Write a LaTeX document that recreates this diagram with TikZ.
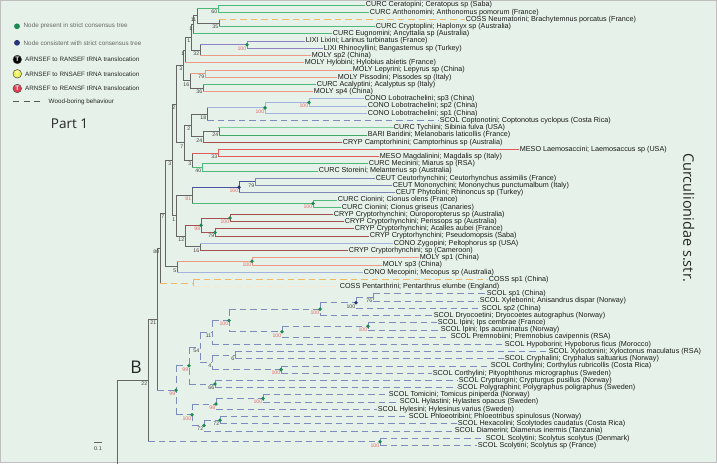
\documentclass[tikz,border=0pt]{standalone}
\usepackage{fontspec}
\setmainfont{Liberation Sans}
\newfontfamily\osans{Open Sans}
\definecolor{bgc}{HTML}{E6F2E9}
\definecolor{gbr}{HTML}{666666}
\definecolor{ccurc}{HTML}{4DBA7A}
\definecolor{ccurct}{HTML}{7CCF9C}
\definecolor{ccoss}{HTML}{F2B866}
\definecolor{clixi}{HTML}{8F7FC4}
\definecolor{cmoly}{HTML}{EC9A85}
\definecolor{ccono}{HTML}{A3B3E0}
\definecolor{cscol}{HTML}{7D8CBD}
\definecolor{ccryp}{HTML}{A5504F}
\definecolor{cmeso}{HTML}{E25A5A}
\definecolor{cceut}{HTML}{7D86B5}
\definecolor{cceutd}{HTML}{4B559F}
\definecolor{cbari}{HTML}{3FAA66}
\definecolor{supred}{HTML}{E8686A}
\definecolor{dotg}{HTML}{1A8A50}
\definecolor{dotn}{HTML}{2A3278}
\definecolor{tyel}{HTML}{EEEE55}
\definecolor{tred}{HTML}{E04050}
\pgfmathdeclarefunction{ly}{1}{\pgfmathparse{5+7.22*#1}}
\newcommand\lf[4]{\node[lab] (#1) at (#3,{ly(#2)}) {#4};}
\newcommand\nd[4]{\pgfmathsetmacro\mytmpy{((#3)+(#4))/2}\expandafter\xdef\csname ny@#1\endcsname{\mytmpy}\coordinate (#1) at (#2,\mytmpy);}
\newcommand\yy[1]{\csname ny@#1\endcsname}
\newcommand\vt[4]{\draw[#1] (#2 |- #3) -- (#2 |- #4);}
\newcommand\hz[3]{\draw[#1] (#2 |- #3) -- (#3);}
\newcommand\sv[3]{\node[#2] (s#1) at ([xshift=-0.3pt,yshift=-1.2pt]#1) {#3};}
\newcommand\dg[1]{\fill[dotg] (#1) circle (1.9pt);}
\newcommand\dn[1]{\fill[dotn] (#1) circle (1.9pt);}
\begin{document}
\begin{tikzpicture}[x=1pt,y=-1pt,
 lab/.style={anchor=west,inner xsep=0.7pt,inner ysep=0.5pt,font=\fontsize{7.2}{8}\selectfont,text=black!90},
 supb/.style={anchor=north east,inner sep=0.3pt,font=\fontsize{5.2}{6}\selectfont,text=black!75},
 supr/.style={supb,text=supred},
 gr/.style={line width=.8pt,draw=gbr,line cap=rect},
 curc/.style={line width=.8pt,draw=ccurc,line cap=rect},
 curct/.style={line width=1.1pt,draw=ccurct,line cap=rect},
 bari/.style={line width=.8pt,draw=cbari,line cap=rect},
 lixi/.style={line width=.8pt,draw=clixi,line cap=rect},
 moly/.style={line width=.8pt,draw=cmoly,line cap=rect},
 cono/.style={line width=.8pt,draw=ccono,line cap=rect},
 cryp/.style={line width=.8pt,draw=ccryp,line cap=rect},
 meso/.style={line width=.8pt,draw=cmeso,line cap=rect},
 ceut/.style={line width=.8pt,draw=cceut,line cap=rect},
 ceutd/.style={line width=.8pt,draw=cceutd,line cap=rect},
 coss/.style={line width=.8pt,draw=ccoss,dash pattern=on 6.5pt off 4pt},
 cossf/.style={line width=.8pt,draw=ccoss!35,dash pattern=on 6.5pt off 4pt},
 scol/.style={line width=.8pt,draw=cscol,dash pattern=on 6.5pt off 4pt},
 legt/.style={anchor=west,inner sep=0pt,font=\fontsize{6.3}{7}\selectfont,text=black!60},
 legt2/.style={anchor=west,inner sep=0pt,font=\fontsize{6.3}{7}\selectfont,text=black!85},
 tcirc/.style={circle,draw=black!70,line width=.5pt,inner sep=0pt,minimum size=8.6pt,text=white,font=\bfseries\fontsize{6.5}{7}\selectfont}
]
\useasboundingbox (0,0) rectangle (717,463);
\fill[bgc] (0,0) rectangle (717,463);
\draw[black!25,line width=.8pt] (0.4,0.4) rectangle (716.6,462.6);

% legend
\fill[dotg] (17,26.3) circle (2.9pt);
\node[legt] (lg1) at (23.5,26.3) {Node present in strict consensus tree};
\fill[dotn] (17,42.8) circle (2.9pt);
\node[legt] (lg2) at (23.5,42.8) {Node consistent with strict consensus tree};
\node[tcirc,fill=black] (t1) at (17.3,59.5) {T};
\node[legt2] (lg3) at (25,59.5) {ARNSEF to RANSEF tRNA translocation};
\node[tcirc,fill=tyel] (t2) at (17.3,73.8) {T};
\node[legt2] (lg4) at (25,73.8) {ARNSEF to RNSAEF tRNA translocation};
\node[tcirc,fill=tred] (t3) at (17.3,88.5) {T};
\node[legt2] (lg5) at (25,88.5) {ARNSEF to REANSF tRNA translocation};
\coordinate (wd1) at (13,101.8); \coordinate (wd2) at (41,101.8);
\draw[black!65,line width=1.3pt,dash pattern=on 6pt off 4.5pt] (wd1) -- (wd2);
\node[legt2] (lg6) at (48.5,101.8) {Wood-boring behaviour};
\node[anchor=base,inner sep=0pt,font=\osans\fontsize{13.5}{16}\selectfont,text=black!85] (p1) at (69.5,128) {Part 1};
\node[anchor=base,inner sep=0pt,font=\osans\fontsize{17.5}{20}\selectfont,text=black!85] (bb) at (136,373.3) {B};
\node[rotate=-90,anchor=base west,inner sep=0pt,font=\osans\fontsize{14.5}{16}\selectfont,text=black!85] (cur) at (683.3,153) {Curculionidae s.str.};
\coordinate (sb1) at (94,442.7); \coordinate (sb2) at (102,442.7);
\draw[gbr,line width=.6pt] (sb1) -- (sb2);
\node[inner sep=0pt,font=\fontsize{5.5}{6}\selectfont,text=black!75] (sbl) at (98,449) {0.1};

% leaves
\lf{L0}{0}{365}{CURC Ceratopini; Ceratopus sp (Saba)}
\lf{L1}{1}{369}{CURC Anthonomini; Anthonomus pomorum (France)}
\lf{L2}{2}{465}{COSS Neumatorini; Brachytemnus porcatus (France)}
\lf{L3}{3}{375}{CURC Cryptoplini; Haplonyx sp (Australia)}
\lf{L4}{4}{332}{CURC Eugnomini; Ancyttalia sp (Australia)}
\lf{L5}{5}{305}{LIXI Lixini; Larinus turbinatus (France)}
\lf{L6}{6}{323}{LIXI Rhinocyllini; Bangasternus sp (Turkey)}
\lf{L7}{7}{311}{MOLY sp2 (China)}
\lf{L8}{8}{304}{MOLY Hylobini; Hylobius abietis (France)}
\lf{L9}{9}{352}{MOLY Lepyrini; Lepyrus sp (China)}
\lf{L10}{10}{337}{MOLY Pissodini; Pissodes sp (Italy)}
\lf{L11}{11}{316}{CURC Acalyptini; Acalyptus sp (Italy)}
\lf{L12}{12}{313}{MOLY sp4 (China)}
\lf{L13}{13}{364}{CONO Lobotrachelini; sp3 (China)}
\lf{L14}{14}{367}{CONO Lobotrachelini; sp2 (China)}
\lf{L15}{15}{367}{CONO Lobotrachelini; sp1 (China)}
\lf{L16}{16}{439}{SCOL Coptonotini; Coptonotus cyclopus (Costa Rica)}
\lf{L17}{17}{393}{CURC Tychiini; Sibinia fulva (USA)}
\lf{L18}{18}{367}{BARI Baridini; Melanobaris laticollis (France)}
\lf{L19}{19}{342}{CRYP Camptorhinini; Camptorhinus sp (Australia)}
\lf{L20}{20}{519}{MESO Laemosaccini; Laemosaccus sp (USA)}
\lf{L21}{21}{379}{MESO Magdalinini; Magdalis sp (Italy)}
\lf{L22}{22}{368}{CURC Mecinini; Miarus sp (RSA)}
\lf{L23}{23}{318}{CURC Storeini; Melanterius sp (Australia)}
\lf{L24}{24}{375}{CEUT Ceutorhynchini; Ceutorhynchus assimilis (France)}
\lf{L25}{25}{392}{CEUT Mononychini; Mononychus punctumalbum (Italy)}
\lf{L26}{26}{395}{CEUT Phytobini; Rhinoncus sp (Turkey)}
\lf{L27}{27}{337}{CURC Cionini; Cionus olens (France)}
\lf{L28}{28}{341}{CURC Cionini; Cionus griseus (Canaries)}
\lf{L29}{29}{333}{CRYP Cryptorhynchini; Ouroporopterus sp (Australia)}
\lf{L30}{30}{344}{CRYP Cryptorhynchini; Perissops sp (Australia)}
\lf{L31}{31}{354}{CRYP Cryptorhynchini; Acalles aubei (France)}
\lf{L32}{32}{369}{CRYP Cryptorhynchini; Pseudomopsis (Saba)}
\lf{L33}{33}{393}{CONO Zygopini; Peltophorus sp (USA)}
\lf{L34}{34}{348}{CRYP Cryptorhynchini; sp (Cameroon)}
\lf{L35}{35}{419}{MOLY sp1 (China)}
\lf{L36}{36}{382}{MOLY sp3 (China)}
\lf{L37}{37}{363}{CONO Mecopini; Mecopus sp (Australia)}
\lf{L38}{38}{488}{COSS sp1 (China)}
\lf{L39}{39}{339}{COSS Pentarthrini; Pentarthrus elumbe (England)}
\lf{L40}{40}{486}{SCOL sp1 (China)}
\lf{L41}{41}{479}{SCOL Xyleborini; Anisandrus dispar (Norway)}
\lf{L42}{42}{481}{SCOL sp2 (China)}
\lf{L43}{43}{433}{SCOL Dryocoetini; Dryocoetes autographus (Norway)}
\lf{L44}{44}{437}{SCOL Ipini; Ips cembrae (France)}
\lf{L45}{45}{440}{SCOL Ipini; Ips acuminatus (Norway)}
\lf{L46}{46}{450}{SCOL Premnobiini; Premnobius cavipennis (RSA)}
\lf{L47}{47}{504}{SCOL Hypoborini; Hypoborus ficus (Morocco)}
\lf{L48}{48}{548}{SCOL Xyloctonini; Xyloctonus maculatus (RSA)}
\lf{L49}{49}{504}{SCOL Cryphalini; Cryphalus saltuarius (Norway)}
\lf{L50}{50}{490}{SCOL Corthylini; Corthylus rubricollis (Costa Rica)}
\lf{L51}{51}{432}{SCOL Corthylini; Pityophthorus micrographus (Sweden)}
\lf{L52}{52}{458}{SCOL Crypturgini; Crypturgus pusillus (Norway)}
\lf{L53}{53}{457}{SCOL Polygraphini; Polygraphus poligraphus (Sweden)}
\lf{L54}{54}{388}{SCOL Tomicini; Tomicus piniperda (Norway)}
\lf{L55}{55}{399}{SCOL Hylastini; Hylastes opacus (Sweden)}
\lf{L56}{56}{377}{SCOL Hylesini; Hylesinus varius (Sweden)}
\lf{L57}{57}{408}{SCOL Phloeotribini; Phloeotribus spinulosus (Norway)}
\lf{L58}{58}{457}{SCOL Hexacolini; Scolytodes caudatus (Costa Rica)}
\lf{L59}{59}{454}{SCOL Diamerini; Diamerus inermis (Tanzania)}
\lf{L60}{60}{485}{SCOL Scolytini; Scolytus scolytus (Denmark)}
\lf{L61}{61}{477}{SCOL Scolytini; Scolytus sp (France)}

% internal nodes
\nd{A}{218}{ly(0)}{ly(1)}
\nd{B}{219}{ly(2)}{ly(3)}
\nd{C}{197}{\yy{A}}{\yy{B}}
\nd{D}{193}{\yy{C}}{ly(4)}
\nd{E}{247}{ly(5)}{ly(6)}
\nd{F}{200}{\yy{E}}{ly(7)}
\nd{G}{191}{\yy{D}}{\yy{F}}
\nd{H}{185}{\yy{G}}{ly(8)}
\nd{I}{205}{ly(9)}{ly(10)}
\nd{J}{203}{ly(11)}{ly(12)}
\nd{K}{190}{\yy{I}}{\yy{J}}
\nd{L}{183}{\yy{H}}{\yy{K}}
\nd{M}{309}{ly(13)}{ly(14)}
\nd{N}{265}{\yy{M}}{ly(15)}
\nd{O}{207}{\yy{N}}{ly(16)}
\nd{P}{219}{ly(17)}{ly(18)}
\nd{Q}{203}{\yy{P}}{ly(19)}
\nd{R}{191}{\yy{O}}{\yy{Q}}
\nd{U}{218}{ly(20)}{ly(21)}
\nd{V}{202}{ly(22)}{ly(23)}
\nd{W}{192}{\yy{U}}{\yy{V}}
\nd{Y}{184}{\yy{R}}{\yy{W}}
\nd{S}{176}{\yy{L}}{\yy{Y}}
\nd{C79}{255}{ly(24)}{ly(25)}
\nd{C100}{239}{\yy{C79}}{ly(26)}
\nd{CI}{313}{ly(27)}{ly(28)}
\nd{Z}{192}{\yy{C100}}{\yy{CI}}
\nd{OP}{230}{ly(29)}{ly(30)}
\nd{AP}{215}{ly(31)}{ly(32)}
\nd{N98}{201}{\yy{OP}}{\yy{AP}}
\nd{N16}{200}{ly(33)}{ly(34)}
\nd{N12}{185}{\yy{N98}}{\yy{N16}}
\nd{N1}{176}{\yy{Z}}{\yy{N12}}
\nd{X}{172}{\yy{S}}{\yy{N1}}
\nd{MO}{252}{ly(35)}{ly(36)}
\nd{N5}{177}{\yy{MO}}{ly(37)}
\nd{N7}{165}{\yy{X}}{\yy{N5}}
\nd{CS}{193}{ly(38)}{ly(39)}
\nd{N80}{160}{\yy{N7}}{\yy{CS}}
\nd{S76}{373}{ly(40)}{ly(41)}
\nd{SNV}{356}{\yy{S76}}{ly(42)}
\nd{SD}{320}{\yy{SNV}}{ly(43)}
\nd{SIP}{368}{ly(44)}{ly(45)}
\nd{SIPr}{282}{\yy{SIP}}{ly(46)}
\nd{SA}{229}{\yy{SD}}{\yy{SIPr}}
\nd{S11}{212}{\yy{SA}}{ly(47)}
\nd{S6}{235}{ly(48)}{ly(49)}
\nd{SCo}{281}{ly(50)}{ly(51)}
\nd{S4}{212}{\yy{S6}}{\yy{SCo}}
\nd{S54}{200}{\yy{S11}}{\yy{S4}}
\nd{S66}{215}{ly(52)}{ly(53)}
\nd{SU}{189}{\yy{S54}}{\yy{S66}}
\nd{STH}{263}{ly(54)}{ly(55)}
\nd{S98}{216}{\yy{STH}}{ly(56)}
\nd{S72a}{220}{ly(57)}{ly(58)}
\nd{S72b}{204}{\yy{S72a}}{ly(59)}
\nd{SL}{192}{\yy{S98}}{\yy{S72b}}
\nd{SB}{176}{\yy{SU}}{\yy{SL}}
\nd{N21}{157}{\yy{N80}}{\yy{SB}}
\nd{SS}{380}{ly(60)}{ly(61)}
\nd{N22}{148}{\yy{N21}}{\yy{SS}}
\coordinate (RT) at (117,\yy{N22});
\coordinate (RB) at (117,463);

% verticals
\vt{curc}{A}{L0.west}{L1.west}
\vt{gr}{B}{L2.west}{L3.west}
\vt{gr}{C}{A}{B}
\vt{gr}{D}{C}{L4.west}
\vt{lixi}{E}{L5.west}{L6.west}
\vt{gr}{F}{E}{L7.west}
\vt{gr}{G}{D}{F}
\vt{gr}{H}{G}{L8.west}
\vt{moly}{I}{L9.west}{L10.west}
\vt{gr}{J}{L11.west}{L12.west}
\vt{gr}{K}{I}{J}
\vt{gr}{L}{H}{K}
\vt{cono}{M}{L13.west}{L14.west}
\vt{cono}{N}{M}{L15.west}
\vt{gr}{O}{N}{L16.west}
\vt{gr}{P}{L17.west}{L18.west}
\vt{gr}{Q}{P}{L19.west}
\vt{gr}{R}{O}{Q}
\vt{meso}{U}{L20.west}{L21.west}
\vt{curc}{V}{L22.west}{L23.west}
\vt{gr}{W}{U}{V}
\vt{gr}{Y}{R}{W}
\vt{gr}{S}{L}{Y}
\vt{ceut}{C79}{L24.west}{L25.west}
\vt{ceutd}{C100}{C79}{L26.west}
\vt{curc}{CI}{L27.west}{L28.west}
\vt{gr}{Z}{C100}{CI}
\vt{cryp}{OP}{L29.west}{L30.west}
\vt{cryp}{AP}{L31.west}{L32.west}
\vt{cryp}{N98}{OP}{AP}
\vt{gr}{N16}{L33.west}{L34.west}
\vt{gr}{N12}{N98}{N16}
\vt{gr}{N1}{Z}{N12}
\vt{gr}{X}{S}{N1}
\vt{moly}{MO}{L35.west}{L36.west}
\vt{gr}{N5}{MO}{L37.west}
\vt{gr}{N7}{X}{N5}
\vt{coss}{CS}{L38.west}{L39.west}
\vt{gr}{N80}{N7}{CS}
\vt{scol}{S76}{L40.west}{L41.west}
\vt{scol}{SNV}{S76}{L42.west}
\vt{scol}{SD}{SNV}{L43.west}
\vt{scol}{SIP}{L44.west}{L45.west}
\vt{scol}{SIPr}{SIP}{L46.west}
\vt{scol}{SA}{SD}{SIPr}
\vt{scol}{S11}{SA}{L47.west}
\vt{scol}{S6}{L48.west}{L49.west}
\vt{scol}{SCo}{L50.west}{L51.west}
\vt{scol}{S4}{S6}{SCo}
\vt{scol}{S54}{S11}{S4}
\vt{scol}{S66}{L52.west}{L53.west}
\vt{scol}{SU}{S54}{S66}
\vt{scol}{STH}{L54.west}{L55.west}
\vt{scol}{S98}{STH}{L56.west}
\vt{scol}{S72a}{L57.west}{L58.west}
\vt{scol}{S72b}{S72a}{L59.west}
\vt{scol}{SL}{S98}{S72b}
\vt{scol}{SB}{SU}{SL}
\vt{gr}{N21}{N80}{SB}
\vt{scol}{SS}{L60.west}{L61.west}
\vt{gr}{N22}{N21}{SS}

% horizontals
\hz{curc}{A}{L0.west} \hz{curc}{A}{L1.west}
\hz{coss}{B}{L2.west} \hz{curc}{B}{L3.west}
\hz{curc}{C}{A} \hz{gr}{C}{B}
\hz{gr}{D}{C} \hz{curc}{D}{L4.west}
\hz{lixi}{E}{L5.west} \hz{lixi}{E}{L6.west}
\hz{lixi}{F}{E} \hz{moly}{F}{L7.west}
\hz{gr}{G}{D} \hz{gr}{G}{F}
\hz{gr}{H}{G} \hz{moly}{H}{L8.west}
\hz{moly}{I}{L9.west} \hz{moly}{I}{L10.west}
\hz{curc}{J}{L11.west} \hz{moly}{J}{L12.west}
\hz{moly}{K}{I} \hz{gr}{K}{J}
\hz{gr}{L}{H} \hz{gr}{L}{K}
\hz{cono}{M}{L13.west} \hz{cono}{M}{L14.west}
\hz{cono}{N}{M} \hz{cono}{N}{L15.west}
\hz{cono}{O}{N} \hz{scol}{O}{L16.west}
\hz{curct}{P}{L17.west} \hz{bari}{P}{L18.west}
\hz{gr}{Q}{P} \hz{cryp}{Q}{L19.west}
\hz{gr}{R}{O} \hz{gr}{R}{Q}
\hz{meso}{U}{L20.west} \hz{meso}{U}{L21.west}
\hz{curc}{V}{L22.west} \hz{curc}{V}{L23.west}
\hz{meso}{W}{U} \hz{curc}{W}{V}
\hz{gr}{Y}{R} \hz{gr}{Y}{W}
\hz{gr}{S}{L} \hz{gr}{S}{Y}
\hz{ceut}{C79}{L24.west} \hz{ceut}{C79}{L25.west}
\hz{ceutd}{C100}{C79} \hz{ceut}{C100}{L26.west}
\hz{curc}{CI}{L27.west} \hz{curc}{CI}{L28.west}
\hz{ceutd}{Z}{C100} \hz{curc}{Z}{CI}
\hz{cryp}{OP}{L29.west} \hz{cryp}{OP}{L30.west}
\hz{cryp}{AP}{L31.west} \hz{cryp}{AP}{L32.west}
\hz{cryp}{N98}{OP} \hz{cryp}{N98}{AP}
\hz{cono}{N16}{L33.west} \hz{cryp}{N16}{L34.west}
\hz{cryp}{N12}{N98} \hz{gr}{N12}{N16}
\hz{gr}{N1}{Z} \hz{gr}{N1}{N12}
\hz{gr}{X}{S} \hz{gr}{X}{N1}
\hz{moly}{MO}{L35.west} \hz{moly}{MO}{L36.west}
\hz{moly}{N5}{MO} \hz{cono}{N5}{L37.west}
\hz{gr}{N7}{X} \hz{gr}{N7}{N5}
\hz{coss}{CS}{L38.west} \hz{cossf}{CS}{L39.west}
\hz{gr}{N80}{N7} \hz{coss}{N80}{CS}
\hz{scol}{S76}{L40.west} \hz{scol}{S76}{L41.west}
\hz{scol}{SNV}{S76} \hz{scol}{SNV}{L42.west}
\hz{scol}{SD}{SNV} \hz{scol}{SD}{L43.west}
\hz{scol}{SIP}{L44.west} \hz{scol}{SIP}{L45.west}
\hz{scol}{SIPr}{SIP} \hz{scol}{SIPr}{L46.west}
\hz{scol}{SA}{SD} \hz{scol}{SA}{SIPr}
\hz{scol}{S11}{SA} \hz{scol}{S11}{L47.west}
\hz{scol}{S6}{L48.west} \hz{scol}{S6}{L49.west}
\hz{scol}{SCo}{L50.west} \hz{scol}{SCo}{L51.west}
\hz{scol}{S4}{S6} \hz{scol}{S4}{SCo}
\hz{scol}{S54}{S11} \hz{scol}{S54}{S4}
\hz{scol}{S66}{L52.west} \hz{scol}{S66}{L53.west}
\hz{scol}{SU}{S54} \hz{scol}{SU}{S66}
\hz{scol}{STH}{L54.west} \hz{scol}{STH}{L55.west}
\hz{scol}{S98}{STH} \hz{scol}{S98}{L56.west}
\hz{scol}{S72a}{L57.west} \hz{scol}{S72a}{L58.west}
\hz{scol}{S72b}{S72a} \hz{scol}{S72b}{L59.west}
\hz{scol}{SL}{S98} \hz{scol}{SL}{S72b}
\hz{scol}{SB}{SU} \hz{scol}{SB}{SL}
\hz{gr}{N21}{N80} \hz{scol}{N21}{SB}
\hz{scol}{SS}{L60.west} \hz{scol}{SS}{L61.west}
\hz{gr}{N22}{N21} \hz{scol}{N22}{SS}
\draw[gr,line width=1pt] (RB) -- (RT) -- (N22);

% dots
\dg{E}\dg{M}\dg{N}\dg{CI}\dg{OP}\dg{AP}\dg{N98}\dg{MO}
\dg{SD}\dg{SIP}\dg{SIPr}\dg{SA}\dg{SCo}\dg{S66}\dg{SU}\dg{STH}\dg{S98}\dg{S72a}\dg{S72b}\dg{SL}\dg{SB}\dg{SS}
\dn{C100}\dn{SNV}

% support values
\sv{A}{supb}{60} \sv{B}{supb}{35} \sv{C}{supb}{11} \sv{D}{supb}{1}
\sv{E}{supr}{100} \sv{F}{supb}{32} \sv{G}{supb}{1} \sv{H}{supb}{1}
\sv{I}{supb}{79} \sv{J}{supb}{36} \sv{K}{supb}{16} \sv{L}{supb}{3}
\sv{M}{supr}{100} \sv{N}{supr}{100} \sv{O}{supb}{18} \sv{P}{supb}{24}
\sv{Q}{supb}{24} \sv{R}{supb}{2} \sv{U}{supb}{33} \sv{V}{supb}{40}
\sv{W}{supb}{3} \sv{Y}{supb}{7} \sv{S}{supb}{2} \sv{C79}{supb}{79}
\sv{C100}{supr}{100} \sv{CI}{supr}{100} \sv{Z}{supr}{81} \sv{OP}{supr}{100}
\sv{AP}{supb}{79} \sv{N98}{supr}{98} \sv{N16}{supb}{16} \sv{N12}{supb}{12}
\sv{N1}{supb}{1} \sv{X}{supb}{3} \sv{MO}{supr}{100} \sv{N5}{supb}{5}
\sv{N7}{supb}{7} \sv{N80}{supb}{80} \sv{S76}{supb}{76} \sv{SNV}{supb}{100}
\sv{SD}{supr}{100} \sv{SIP}{supr}{100} \sv{SIPr}{supr}{100} \sv{SA}{supr}{100}
\sv{S11}{supb}{11} \sv{S6}{supb}{6} \sv{SCo}{supr}{100} \sv{S4}{supb}{4}
\sv{S54}{supb}{54} \sv{S66}{supb}{66} \sv{SU}{supr}{99} \sv{STH}{supr}{100}
\sv{S98}{supr}{98} \sv{S72a}{supb}{72} \sv{S72b}{supb}{72} \sv{SL}{supr}{100}
\sv{SB}{supr}{99} \sv{N21}{supb}{21} \sv{SS}{supr}{100} \sv{N22}{supb}{22}
\end{tikzpicture}
\end{document}
